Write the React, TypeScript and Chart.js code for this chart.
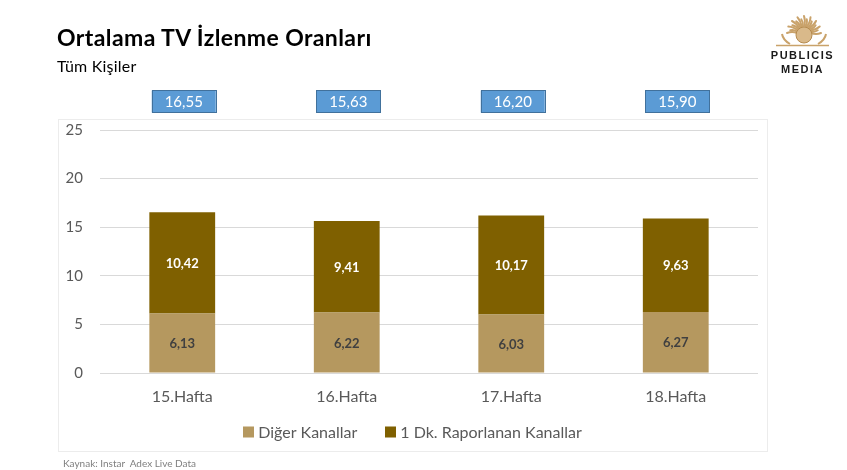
import React, { useEffect, useRef } from "react";
import { Chart, registerables } from "chart.js";

Chart.register(...registerables);

const categories = ["15.Hafta", "16.Hafta", "17.Hafta", "18.Hafta"];
const digerKanallar = [6.13, 6.22, 6.03, 6.27];
const raporlananKanallar = [10.42, 9.41, 10.17, 9.63];
const totals = [16.55, 15.63, 16.2, 15.9];
const yTicks = [0, 5, 10, 15, 20, 25];
const seriesNames = ["Diğer Kanallar", "1 Dk. Raporlanan Kanallar"];
const seriesColors = ["#b5985f", "#7f6000"];

const FONT = "Lato, 'Open Sans', sans-serif";
const fmt = (v: number) => v.toFixed(2).replace(".", ",");

const overlayPlugin = {
  id: "overlay",
  beforeDraw(chart: any) {
    const ctx = chart.ctx;
    ctx.save();
    ctx.strokeStyle = "#ececec";
    ctx.lineWidth = 1;
    ctx.strokeRect(58.5, 119.5, 709, 332);
    ctx.restore();
  },
  afterDatasetsDraw(chart: any) {
    const ctx = chart.ctx;
    ctx.save();
    ctx.textAlign = "center";
    ctx.textBaseline = "middle";
    ctx.font = `bold 13px ${FONT}`;
    chart.data.datasets.forEach((ds: any, di: number) => {
      const meta = chart.getDatasetMeta(di);
      meta.data.forEach((bar: any, i: number) => {
        const y = (bar.y + bar.base) / 2;
        ctx.fillStyle = di === 0 ? "#404040" : "#ffffff";
        ctx.fillText(fmt(ds.data[i]), bar.x, y + 1);
      });
    });
    const xs = chart.scales.x;
    ctx.font = `15px ${FONT}`;
    totals.forEach((t, i) => {
      const cx = xs.getPixelForValue(i) + 1.5;
      const w = 64;
      const h = 22;
      const top = 90.5;
      ctx.fillStyle = "#5b9bd5";
      ctx.fillRect(cx - w / 2, top, w, h);
      ctx.strokeStyle = "#41719c";
      ctx.lineWidth = 1;
      ctx.strokeRect(Math.round(cx - w / 2) + 0.5, top, w, h);
      ctx.fillStyle = "#ffffff";
      ctx.fillText(fmt(t), cx, top + h / 2 + 1);
    });

    // legend
    ctx.font = `16px ${FONT}`;
    ctx.textAlign = "left";
    const box = 11;
    const gapText = 4;
    const gapItem = 28;
    const items = chart.data.datasets.map((ds: any) => ({
      label: ds.label,
      color: ds.backgroundColor,
      w: ctx.measureText(ds.label).width,
    }));
    const total =
      items.reduce((s: number, it: any) => s + box + gapText + it.w, 0) +
      gapItem * (items.length - 1);
    let x = 412.5 - total / 2;
    const cy = 432;
    items.forEach((it: any) => {
      ctx.fillStyle = it.color;
      ctx.fillRect(Math.round(x), cy - box / 2, box, box);
      ctx.fillStyle = "#595959";
      ctx.fillText(it.label, x + box + gapText, cy + 1);
      x += box + gapText + it.w + gapItem;
    });
    ctx.restore();
  },
};

function Logo() {
  const rays = [];
  const cx = 804;
  const cy = 33;
  for (let k = 0; k <= 16; k++) {
    const a = Math.PI + (k / 16) * Math.PI;
    const r1 = 7;
    const r2 = 15 + (k % 2 === 0 ? 2 : -1);
    const xm = cx + Math.cos(a + 0.15) * ((r1 + r2) / 2);
    const ym = cy + Math.sin(a + 0.15) * ((r1 + r2) / 2);
    rays.push(
      <path
        key={k}
        d={`M ${cx + Math.cos(a) * r1} ${cy + Math.sin(a) * r1} Q ${xm} ${ym} ${cx + Math.cos(a) * r2} ${cy + Math.sin(a) * r2}`}
        stroke="#c9a26a"
        strokeWidth={2}
        fill="none"
        strokeLinecap="round"
      />
    );
  }
  return (
    <svg
      width={847}
      height={80}
      style={{ position: "absolute", left: 0, top: 0, pointerEvents: "none" }}
    >
      {rays}
      <path d={`M 790 44 Q 783 40 782 34`} stroke="#c9a26a" strokeWidth={2} fill="none" />
      <path d={`M 818 44 Q 825 40 826 34`} stroke="#c9a26a" strokeWidth={2} fill="none" />
      <circle cx={cx} cy={cy + 2} r={8} fill="#d9b98a" stroke="#b58a4e" strokeWidth={1} />
      <line x1={776} y1={45.5} x2={829} y2={45.5} stroke="#c9a26a" strokeWidth={1.5} />
      <text
        x={802.5}
        y={59}
        textAnchor="middle"
        fontFamily="'Liberation Sans', Arial, sans-serif"
        fontWeight="bold"
        fontSize={11}
        letterSpacing={1.5}
        fill="#1a1a1a"
      >
        PUBLICIS
      </text>
      <text
        x={802.5}
        y={73}
        textAnchor="middle"
        fontFamily="'Liberation Sans', Arial, sans-serif"
        fontWeight="bold"
        fontSize={11}
        letterSpacing={1.5}
        fill="#1a1a1a"
      >
        MEDIA
      </text>
    </svg>
  );
}

export default function App() {
  const ref = useRef<HTMLCanvasElement | null>(null);

  useEffect(() => {
    if (!ref.current) return;
    const chart = new Chart(ref.current, {
      type: "bar",
      data: {
        labels: categories,
        datasets: [
          {
            label: seriesNames[0],
            data: digerKanallar,
            backgroundColor: seriesColors[0],
            barPercentage: 0.4,
            categoryPercentage: 1,
          },
          {
            label: seriesNames[1],
            data: raporlananKanallar,
            backgroundColor: seriesColors[1],
            barPercentage: 0.4,
            categoryPercentage: 1,
          },
        ],
      },
      options: {
        responsive: false,
        animation: false,
        layout: { padding: { left: 58, top: 130, right: 89, bottom: 57 } },
        plugins: {
          legend: { display: false },
          tooltip: { enabled: false },
        },
        scales: {
          x: {
            stacked: true,
            grid: { display: false, drawTicks: false },
            border: { display: false },
            afterFit: (s: any) => {
              s.height = 40;
            },
            ticks: {
              padding: 14,
              color: "#595959",
              font: { family: FONT, size: 16 },
            },
          },
          y: {
            stacked: true,
            min: 0,
            max: 25,
            afterBuildTicks: (s: any) => {
              s.ticks = yTicks.map((v) => ({ value: v }));
            },
            afterFit: (s: any) => {
              s.width = 42;
            },
            grid: { color: "#d9d9d9", drawTicks: false },
            border: { display: false },
            ticks: {
              padding: 17,
              color: "#595959",
              font: { family: FONT, size: 15 },
            },
          },
        },
      },
      plugins: [overlayPlugin],
    });
    return () => chart.destroy();
  }, []);

  return (
    <div
      style={{
        position: "absolute",
        left: 0,
        top: 0,
        width: 847,
        height: 470,
        background: "#fff",
        overflow: "hidden",
      }}
    >
      <canvas
        ref={ref}
        width={847}
        height={470}
        style={{ position: "absolute", left: 0, top: 0, width: 847, height: 470 }}
      />
      <div
        style={{
          position: "absolute",
          left: 57,
          top: 25.5,
          fontFamily: FONT,
          fontWeight: 700,
          fontSize: 23,
          lineHeight: "23px",
          letterSpacing: 0.4,
          color: "#000",
          whiteSpace: "nowrap",
        }}
      >
        Ortalama TV İzlenme Oranları
      </div>
      <div
        style={{
          position: "absolute",
          left: 57,
          top: 57.8,
          fontFamily: FONT,
          fontSize: 16,
          lineHeight: "16px",
          letterSpacing: 0.2,
          color: "#000",
          whiteSpace: "nowrap",
        }}
      >
        Tüm Kişiler
      </div>
      <div
        style={{
          position: "absolute",
          left: 63,
          top: 457,
          fontFamily: FONT,
          fontSize: 10,
          lineHeight: "12px",
          color: "#7f7f7f",
          whiteSpace: "pre",
        }}
      >
        {"Kaynak: Instar  Adex Live Data"}
      </div>
      <Logo />
    </div>
  );
}
